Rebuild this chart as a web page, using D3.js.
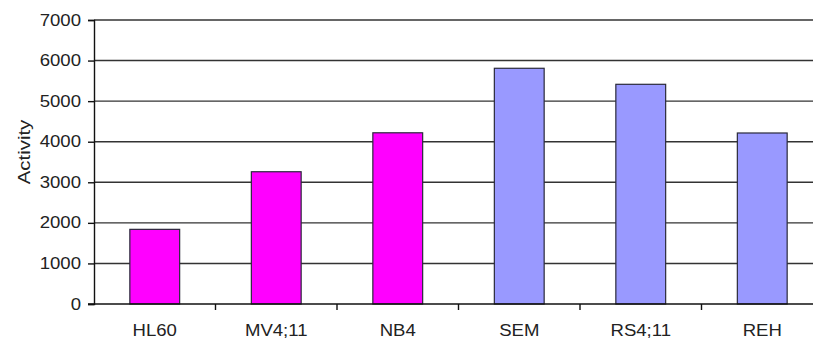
<!DOCTYPE html>
<html>
<head>
<meta charset="utf-8">
<script src="https://cdn.jsdelivr.net/npm/d3@7"></script>
<style>
  html, body { margin: 0; padding: 0; background: #fff; }
  svg { display: block; }
  text { font-family: "Liberation Sans", Arial, sans-serif; fill: #222; }
</style>
</head>
<body>
<svg id="chart" width="813" height="340"></svg>
<script>
// Cell lines and measured activity
const categories = ["HL60", "MV4;11", "NB4", "SEM", "RS4;11", "REH"];
const activity   = [1840, 3260, 4220, 5810, 5415, 4215];
const groups     = ["myeloid", "myeloid", "myeloid", "lymphoid", "lymphoid", "lymphoid"];
const yTicks     = [0, 1000, 2000, 3000, 4000, 5000, 6000, 7000];
const yLabel     = "Activity";

const groupColor = { myeloid: "#ff00ff", lymphoid: "#9999ff" };

const svg = d3.select("#chart");
const plot = { left: 94, top: 20, bottom: 304, right: 823 };
const textStretch = 1.16;

const x = d3.scaleBand()
  .domain(categories)
  .range([plot.left, plot.right])
  .paddingInner(0.59)
  .paddingOuter(0.295);

const y = d3.scaleLinear().domain([0, 7000]).range([plot.bottom, plot.top]);

// horizontal grid lines
svg.append("g")
  .selectAll("line")
  .data(yTicks.filter(v => v > 0))
  .join("line")
  .attr("x1", plot.left).attr("x2", 813)
  .attr("y1", d => y(d)).attr("y2", d => y(d))
  .attr("stroke", "#333").attr("stroke-width", 1.4);

// bars
svg.append("g")
  .selectAll("rect")
  .data(categories)
  .join("rect")
  .attr("x", d => x(d))
  .attr("width", x.bandwidth())
  .attr("y", (d, i) => y(activity[i]))
  .attr("height", (d, i) => y(0) - y(activity[i]))
  .attr("fill", (d, i) => groupColor[groups[i]])
  .attr("stroke", "#2a2a3a")
  .attr("stroke-width", 1.2);

// stretch a text element horizontally around its own anchor
function widen(sel) {
  sel.each(function () {
    const t = d3.select(this);
    const ax = +t.attr("x") || 0;
    t.attr("transform", `translate(${ax},0) scale(${textStretch},1) translate(${-ax},0)`);
  });
}

// y axis
const yAxis = svg.append("g")
  .attr("transform", `translate(${plot.left},0)`)
  .call(d3.axisLeft(y).tickValues(yTicks).tickSize(6).tickPadding(7).tickFormat(d3.format("d")));
yAxis.select(".domain").attr("stroke", "#111").attr("stroke-width", 1.4);
yAxis.selectAll(".tick line").attr("stroke", "#111").attr("stroke-width", 1.4);
yAxis.selectAll(".tick text").attr("font-size", 16).attr("font-family", null).attr("fill", "#222").call(widen);

// x axis: labels centred on bars, ticks on category boundaries
const xAxis = svg.append("g")
  .attr("transform", `translate(0,${plot.bottom})`)
  .call(d3.axisBottom(x).tickSize(0).tickPadding(21));
xAxis.select(".domain").remove();
xAxis.selectAll(".tick text").attr("font-size", 16).attr("font-family", null).attr("fill", "#222").call(widen);

const step = x.step();
const edge = (step - x.bandwidth()) / 2;
svg.append("g")
  .selectAll("line")
  .data(categories.slice(1))
  .join("line")
  .attr("x1", d => x(d) - edge).attr("x2", d => x(d) - edge)
  .attr("y1", plot.bottom).attr("y2", plot.bottom + 6)
  .attr("stroke", "#111").attr("stroke-width", 1.4);

svg.append("line")
  .attr("x1", plot.left - 6).attr("x2", 813)
  .attr("y1", plot.bottom).attr("y2", plot.bottom)
  .attr("stroke", "#111").attr("stroke-width", 1.4);

// y axis title
svg.append("text")
  .attr("transform", `translate(30,${(plot.top + plot.bottom) / 2 - 10}) rotate(-90) scale(1.2,1)`)
  .attr("text-anchor", "middle")
  .attr("font-size", 17)
  .text(yLabel);
</script>
</body>
</html>
